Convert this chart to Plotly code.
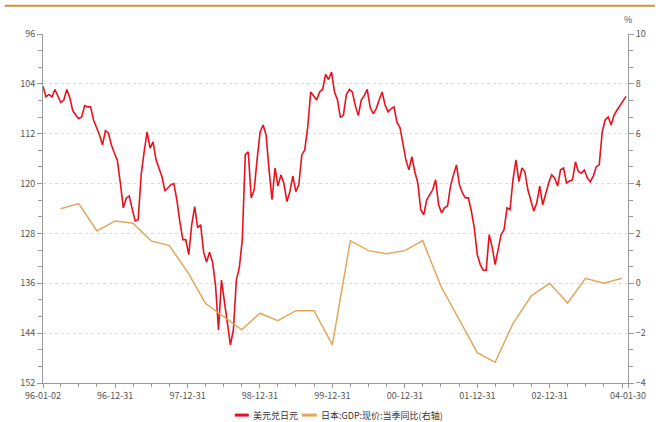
import plotly.graph_objects as go
import pandas as pd

# ---- data ----
fx_start = "1996-01-02"
fx_step = "15D"
usdjpy = [
    104.4, 106.1, 105.7, 106.1, 104.9, 105.9, 107.0, 106.6, 104.9, 106.2,
    108.3, 109.0, 109.6, 109.3, 107.5, 107.7, 107.7, 109.8, 111.0, 112.2,
    113.8, 111.5, 111.9, 113.8, 115.1, 116.3, 119.9, 123.9, 122.3, 122.0,
    124.1, 126.0, 125.8, 118.6, 114.9, 111.7, 114.3, 113.3, 116.2, 117.6,
    118.9, 121.2, 120.7, 120.2, 120.0, 122.6, 126.1, 129.0, 129.0, 131.4,
    126.6, 123.7, 127.1, 126.6, 131.0, 132.6, 131.0, 132.6, 136.3, 143.5,
    135.5, 139.0, 141.9, 145.9, 143.5, 135.5, 133.5, 129.0, 115.4, 114.9,
    122.3, 121.0, 116.0, 111.7, 110.6, 112.2, 117.8, 122.6, 117.5, 120.4,
    118.6, 120.0, 122.9, 121.3, 118.8, 121.3, 120.2, 115.4, 114.6, 110.9,
    105.3, 105.9, 106.6, 105.3, 104.9, 102.5, 103.3, 102.1, 105.3, 106.6,
    109.4, 109.0, 105.7, 104.9, 105.3, 107.5, 109.1, 106.6, 105.9, 104.9,
    107.8, 108.8, 108.0, 106.6, 105.3, 107.4, 108.5, 108.0, 107.7, 110.2,
    111.0, 113.6, 116.2, 117.8, 115.7, 118.1, 119.9, 124.2, 125.0, 122.6,
    121.8, 121.0, 119.4, 123.4, 124.7, 123.9, 123.6, 120.4, 118.6, 117.0,
    120.2, 121.5, 122.3, 122.3, 124.4, 127.1, 131.4, 133.0, 133.9, 133.9,
    128.2, 130.2, 133.0, 130.6, 128.2, 127.4, 123.9, 124.2, 119.4, 116.2,
    119.7, 117.5, 118.1, 121.0, 122.9, 124.4, 123.1, 120.4, 123.4, 121.5,
    119.9, 118.6, 119.1, 120.4, 117.8, 117.5, 119.9, 119.6, 119.4, 116.5,
    118.1, 118.3, 117.8, 119.1, 119.7, 118.8, 117.3, 117.0, 111.7, 109.8,
    109.3, 110.6, 109.0, 108.2, 107.4, 106.6, 106.0,
]
fx_dates = pd.date_range(fx_start, periods=len(usdjpy), freq=fx_step)

years = list(range(1996, 2004))
gdp_dates = [f"{y}-{md}" for y in years for md in ("03-31", "06-30", "09-30", "12-31")]
gdp_yoy = [
    2.99, 3.20, 2.10, 2.50,
    2.41, 1.70, 1.51, 0.46,
    -0.80, -1.34, -1.87, -1.20,
    -1.50, -1.10, -1.10, -2.47,
    1.71, 1.31, 1.19, 1.31,
    1.71, -0.11, -1.47, -2.78,
    -3.17, -1.60, -0.50, 0.00,
    -0.79, 0.20, 0.00, 0.20,
]

x_tick_vals = ["1996-01-02", "1996-12-31", "1997-12-31", "1998-12-31", "1999-12-31",
               "2000-12-31", "2001-12-31", "2002-12-31", "2003-12-31", "2004-01-30"]
x_tick_text = ["96-01-02", "96-12-31", "97-12-31", "98-12-31", "99-12-31",
               "00-12-31", "01-12-31", "02-12-31", "", "04-01-30"]
x_minor_vals = [f"{y}-{md}" for y in years for md in ("03-31", "06-30", "09-30")]

name_fx = "美元兑日元"
name_gdp = "日本:GDP:现价:当季同比(右轴)"

RED = "#E8121E"
TAN = "#E2A75A"
AXIS = "#9a9a9a"
TXT = "#555555"
FONT = "Noto Sans CJK SC"

fig = go.Figure()
fig.add_trace(go.Scatter(x=fx_dates, y=usdjpy, mode="lines", name=name_fx,
                         line=dict(color=RED, width=1.6), yaxis="y", showlegend=False))
fig.add_trace(go.Scatter(x=gdp_dates, y=gdp_yoy, mode="lines", name=name_gdp,
                         line=dict(color=TAN, width=1.5), yaxis="y2", showlegend=False))

# custom compact legend (short swatches like the reference)
leg_y = -0.092
legend_items = [(name_fx, RED, 0.3279, 0.3518, 0.3552),
                (name_gdp, TAN, 0.4424, 0.4680, 0.4715)]
shapes = [dict(type="line", xref="paper", yref="paper", x0=-0.0655, x1=1.046, y0=1.081, y1=1.081,
               line=dict(color="#C9963F", width=2))]
annotations = [dict(text="%", xref="paper", yref="paper", x=1.0, y=1.041, xanchor="center",
                    yanchor="middle", showarrow=False, font=dict(size=9, color=TXT))]
for label, col, sx0, sx1, tx in legend_items:
    shapes.append(dict(type="line", xref="paper", yref="paper", x0=sx0, x1=sx1, y0=leg_y, y1=leg_y,
                       line=dict(color=col, width=3)))
    annotations.append(dict(text=label, xref="paper", yref="paper", x=tx, y=leg_y, xanchor="left",
                            yanchor="middle", showarrow=False, font=dict(size=9, color="#333333")))

fig.update_layout(
    width=662, height=422,
    margin=dict(l=43, r=34, t=34, b=39, autoexpand=False),
    paper_bgcolor="white", plot_bgcolor="white",
    font=dict(family=FONT, size=9, color=TXT),
    showlegend=False,
    xaxis=dict(
        type="date", range=["1996-01-02", "2004-01-30"],
        tickmode="array", tickvals=x_tick_vals, ticktext=x_tick_text,
        ticks="outside", ticklen=4, tickcolor=AXIS, tickwidth=1,
        showline=True, linecolor=AXIS, linewidth=1,
        showgrid=False, zeroline=False, automargin=False,
        tickfont=dict(size=9, color=TXT),
        minor=dict(tickvals=x_minor_vals, ticks="outside", ticklen=3, tickcolor=AXIS, showgrid=False),
    ),
    yaxis=dict(
        range=[152, 96], tickmode="linear", tick0=96, dtick=8,
        ticks="outside", ticklen=5, tickcolor=AXIS,
        showline=True, linecolor=AXIS, linewidth=1,
        showgrid=True, gridcolor="#dddddd", griddash="dot", gridwidth=1,
        zeroline=False, automargin=False, tickfont=dict(size=9, color=TXT),
        minor=dict(tick0=96, dtick=8/3, ticks="outside", ticklen=4, tickcolor=AXIS, showgrid=False),
    ),
    yaxis2=dict(
        overlaying="y", side="right", range=[-4, 10], tickmode="linear", tick0=-4, dtick=2,
        ticks="outside", ticklen=5, tickcolor=AXIS,
        showline=True, linecolor=AXIS, linewidth=1,
        showgrid=False, zeroline=False, automargin=False, tickfont=dict(size=9, color=TXT),
        minor=dict(tick0=-4, dtick=2/3, ticks="outside", ticklen=4, tickcolor=AXIS, showgrid=False),
    ),
    shapes=shapes,
    annotations=annotations,
)

fig.write_html("out.html", config={"displayModeBar": False},
               post_script="document.body.style.margin='0';")
